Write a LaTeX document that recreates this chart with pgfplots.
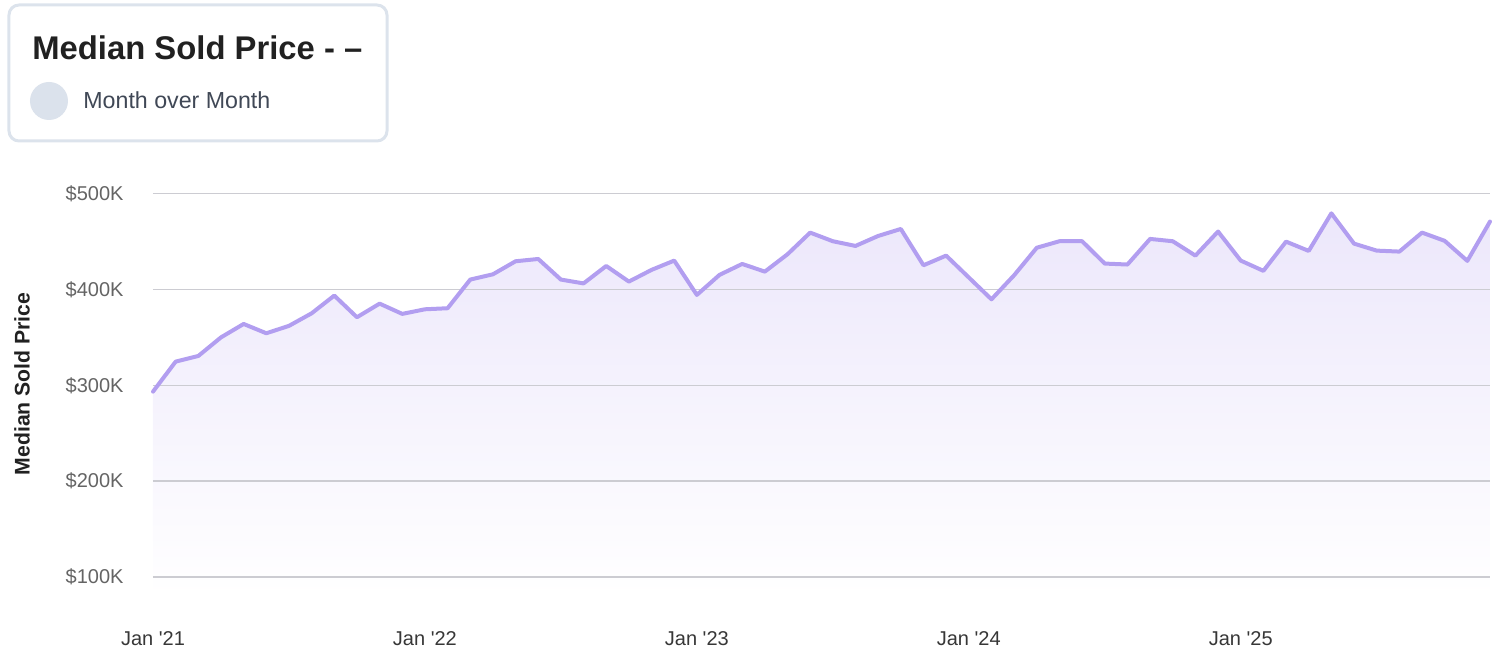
\documentclass[border=0pt]{standalone}
\usepackage{pgfplots}
\pgfplotsset{compat=1.18}
\usepackage{fontspec}
\setmainfont{Liberation Sans}
\definecolor{linecol}{RGB}{178,158,240}
\definecolor{filltop}{RGB}{236,231,251}
\definecolor{gridcol}{RGB}{204,204,210}
\definecolor{titlecol}{RGB}{33,33,33}
\definecolor{legtext}{RGB}{64,72,86}
\definecolor{circcol}{RGB}{219,226,236}
\definecolor{boxcol}{RGB}{220,227,236}
\definecolor{ytickcol}{RGB}{100,100,100}
\definecolor{xtickcol}{RGB}{55,55,55}
\pgfplotstableread{
m v
0 293.4
1 324.7
2 330.6
3 350.0
4 364.0
5 354.3
6 362.0
7 375.1
8 393.6
9 371.0
10 385.2
11 374.5
12 379.3
13 380.4
14 410.3
15 415.8
16 429.4
17 431.8
18 410.3
19 406.3
20 424.5
21 408.2
22 420.4
23 430.1
24 394.3
25 415.2
26 426.6
27 418.6
28 436.7
29 459.3
30 450.3
31 445.4
32 455.8
33 463.1
34 425.2
35 435.3
36 412.5
37 389.7
38 414.8
39 443.5
40 450.3
41 450.3
42 427.0
43 426.0
44 452.7
45 450.3
46 435.3
47 460.4
48 430.1
49 419.4
50 449.9
51 440.2
52 479.4
53 447.8
54 440.5
55 439.5
56 459.3
57 450.7
58 429.8
59 470.8
}\pricedata
\begin{document}
\begin{tikzpicture}
\useasboundingbox (-76.5pt,-28.4pt) rectangle (673pt,298.1pt);
\begin{axis}[
  scale only axis,
  width=668.5pt, height=206.1pt,
  xmin=0, xmax=59, ymin=80, ymax=510,
  axis line style={draw=none},
  axis on top=true,
  major tick length=0pt,
  xtick={0,12,24,36,48},
  xticklabels={Jan \textquotesingle21,Jan \textquotesingle22,Jan \textquotesingle23,Jan \textquotesingle24,Jan \textquotesingle25},
  ytick={100,200,300,400,500},
  yticklabels={\$100K,\$200K,\$300K,\$400K,\$500K},
  xticklabel style={font=\fontsize{10pt}{12pt}\selectfont, text=xtickcol, anchor=north, yshift=-14pt},
  yticklabel style={font=\fontsize{10pt}{12pt}\selectfont, text=ytickcol, anchor=east, xshift=-11.2pt},
  ymajorgrids=true,
  major grid style={gridcol, line width=0.75pt},
  ylabel={Median Sold Price},
  ylabel style={at={(axis description cs:-0.098,0.515)}, anchor=center, font=\fontsize{10.6pt}{12pt}\selectfont\bfseries, text=titlecol},
  clip=true,
]
\addplot[draw=none, top color=filltop, bottom color=white] table[x=m,y=v]{\pricedata} -- (axis cs:59,80) -- (axis cs:0,80) -- cycle;
\end{axis}
\begin{axis}[
  scale only axis,
  width=668.5pt, height=206.1pt,
  xmin=0, xmax=59, ymin=80, ymax=510,
  hide axis,
  clip=false,
]
\addplot[linecol, line width=2pt, line join=round, line cap=round, mark=none] table[x=m,y=v]{\pricedata};
\end{axis}
\draw[boxcol, line width=1.5pt, rounded corners=5pt, fill=white] (-72pt,227.6pt) rectangle (117pt,295.6pt);
\node[anchor=base west, inner sep=0pt, text=titlecol, font=\fontsize{16.4pt}{20pt}\selectfont\bfseries] at (-60.5pt,268.4pt) {Median Sold Price - –};
\fill[circcol] (-52pt,247.6pt) circle (9.5pt);
\node[anchor=base west, inner sep=0pt, text=legtext, font=\fontsize{11.6pt}{14pt}\selectfont] at (-35pt,243.6pt) {Month over Month};
\end{tikzpicture}
\end{document}
